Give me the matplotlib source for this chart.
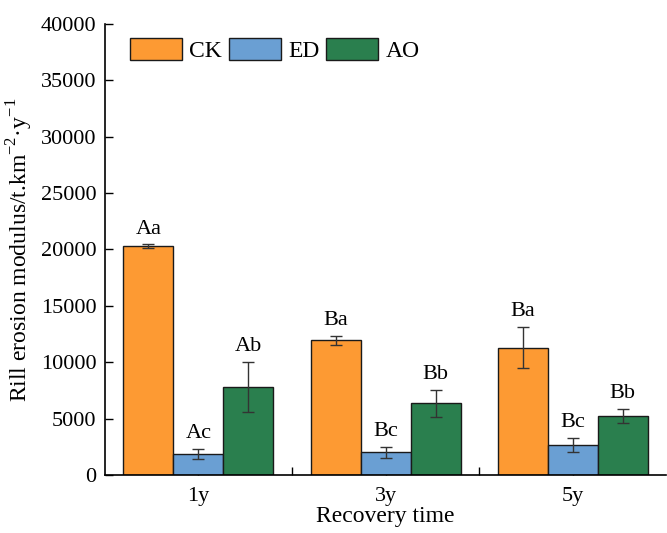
import numpy as np
import matplotlib
matplotlib.use("Agg")
from matplotlib import pyplot as plt

years = ["1y", "3y", "5y"]
groups = ["CK", "ED", "AO"]
ck = [20300, 11950, 11300]
ck_err = [150, 400, 1830]
ed = [1850, 2000, 2650]
ed_err = [450, 480, 650]
ao = [7800, 6350, 5250]
ao_err = [2250, 1180, 630]
ck_lab = ["Aa", "Ba", "Ba"]
ed_lab = ["Ac", "Bc", "Bc"]
ao_lab = ["Ab", "Bb", "Bb"]

colors = ["#FD9A33", "#6A9FD3", "#2A7F4E"]

plt.rcParams["font.family"] = ["Liberation Serif", "DejaVu Serif"]
plt.rcParams["mathtext.fontset"] = "custom"
plt.rcParams["mathtext.rm"] = "Liberation Serif"

fig = plt.figure(figsize=(6.67, 5.33), dpi=100)
ax = fig.add_axes([0.157, 0.109, 0.842, 0.846])

x = np.arange(len(years))
w = 0.267
series = [(ck, ck_err, ck_lab), (ed, ed_err, ed_lab), (ao, ao_err, ao_lab)]
for i, (vals, errs, labs) in enumerate(series):
    pos = x + (i - 1) * w
    ax.bar(pos, vals, w, color=colors[i], edgecolor="#1a1a1a", linewidth=1.0,
           label=groups[i], zorder=2)
    ax.errorbar(pos, vals, yerr=errs, fmt="none", ecolor="#333333",
                elinewidth=1.0, capsize=4, capthick=1.0, zorder=3)
    for p, v, e, t in zip(pos, vals, errs, labs):
        ax.annotate(t, (p, v + e), xytext=(0, 4), textcoords="offset points",
                    ha="center", va="bottom", fontsize=16)

ax.set_xlim(-0.5, 2.5)
ax.set_ylim(0, 40000)
ax.set_yticks(np.arange(0, 40001, 5000))
ax.set_xticks(x)
ax.set_xticklabels(years)
ax.set_xticks([0.5, 1.5], minor=True)
ax.tick_params(axis="both", direction="in", length=6, width=1, labelsize=16)
ax.tick_params(axis="x", which="minor", direction="in", length=6, width=1)
ax.tick_params(axis="x", pad=9)
ax.tick_params(axis="y", pad=6)
ax.spines["top"].set_visible(False)
ax.spines["right"].set_visible(False)
ax.spines["left"].set_linewidth(1.2)
ax.spines["bottom"].set_linewidth(1.2)

ax.set_xlabel("Recovery time", fontsize=17, labelpad=0)
ax.set_ylabel(r"Rill erosion modulus/t.km$^{\mathrm{-2}}$·y$^{\mathrm{-1}}$",
              fontsize=17, labelpad=4)

ax.legend(loc="upper left", bbox_to_anchor=(0.02, 1.0), ncol=3, frameon=False,
          fontsize=17, handlelength=2.2, handleheight=1.05, handletextpad=0.3,
          columnspacing=0.3, borderaxespad=0.2)

fig.savefig("out.png", dpi=100)
